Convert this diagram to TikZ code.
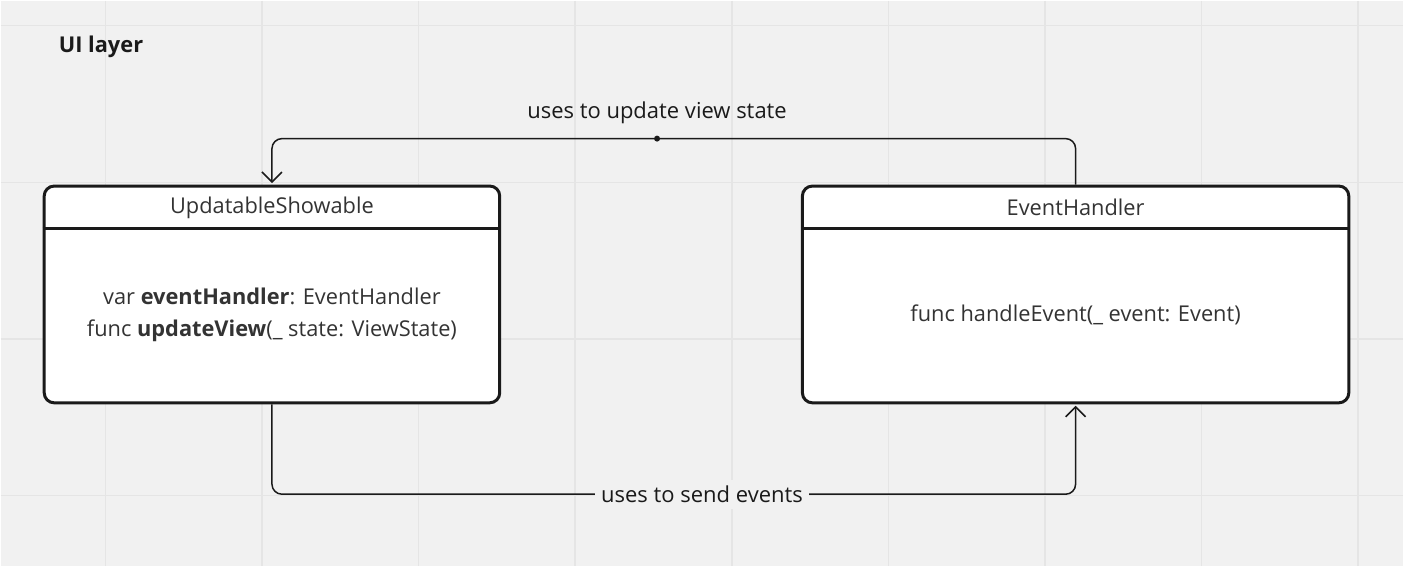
\documentclass[tikz,border=0pt]{standalone}
\usepackage{fontspec}
\setmainfont{Open Sans}
\usepackage{tikz}
\usetikzlibrary{positioning, arrows.meta}
\definecolor{bgcol}{HTML}{F1F1F1}
\definecolor{gridcol}{HTML}{E5E5E5}
\definecolor{inkcol}{HTML}{1A1A1A}
\definecolor{txtcol}{HTML}{333333}
\tikzset{conn/.style={line width=1.5pt, draw=inkcol, rounded corners=10pt}, >={Straight Barb[length=10pt, width=20pt, line width=1.5pt]}}
\tikzstyle{classbox}=[draw=inkcol, line width=3pt, fill=white, rounded corners=10pt, minimum height=217pt]
\tikzstyle{boxtext}=[text=txtcol, font=\fontsize{21.8}{32}\selectfont, align=center]
\tikzstyle{linklabel}=[text=inkcol, font=\fontsize{22}{24}\selectfont, fill=bgcol, inner sep=6pt]

\begin{document}
\begin{tikzpicture}[x=1pt, y=-1pt]
\fill[bgcol] (0, 0) rectangle (1404, 566);
\foreach \gx in {105, 261.7, 418.4, 575.1, 731.8, 888.5, 1045.2, 1201.9, 1358.6} \draw[gridcol, line width=1.5pt] (\gx, 0) -- (\gx, 566);
\foreach \gy in {25, 181.7, 338.4, 495.1} \draw[gridcol, line width=1.5pt] (0, \gy) -- (1404, \gy);
\node (uiLayer) [anchor=west, text=inkcol, font=\fontsize{21.8}{24}\selectfont\bfseries, inner sep=0pt] at (58, 46) {UI layer};
\node[classbox, minimum width=456pt] (showable) at (271.5, 294) {};
\node[classbox, minimum width=547pt] (handler) at (1076, 294) {};
\coordinate (headerY) at (0, 228);
\draw[inkcol, line width=3pt] (showable.west |- headerY) -- (showable.east |- headerY);
\draw[inkcol, line width=3pt] (handler.west |- headerY) -- (handler.east |- headerY);
\node[boxtext] (showable-title) at (271.5, 207) {UpdatableShowable};
\node[boxtext] (showable-body) at (271.5, 314) {var \textbf{eventHandler}: EventHandler\\func \textbf{updateView}(\_ state: ViewState)};
\node[boxtext] (handler-title) at (1076, 207) {EventHandler};
\node[boxtext] (handler-body) at (1076, 314) {func handleEvent(\_ event: Event)};
\coordinate (topY) at (0, 138);
\coordinate (bottomY) at (0, 494);
\draw[conn, ->] (handler.north) -- (handler.north |- topY) -- (showable.north |- topY) -- ([yshift=1.5pt]showable.north);
\fill[inkcol] (657, 138) circle (3pt) node (updateDot) {};
\node (updateLabel) [text=inkcol, font=\fontsize{22}{24}\selectfont] at (657, 112) {uses to update view state};
\draw[conn, ->] (showable.south) -- (showable.south |- bottomY) -- (handler.south |- bottomY) -- ([yshift=-1.5pt]handler.south);
\node[linklabel] (sendLabel) at (702, 494) {uses to send events};
\end{tikzpicture}
\end{document}
